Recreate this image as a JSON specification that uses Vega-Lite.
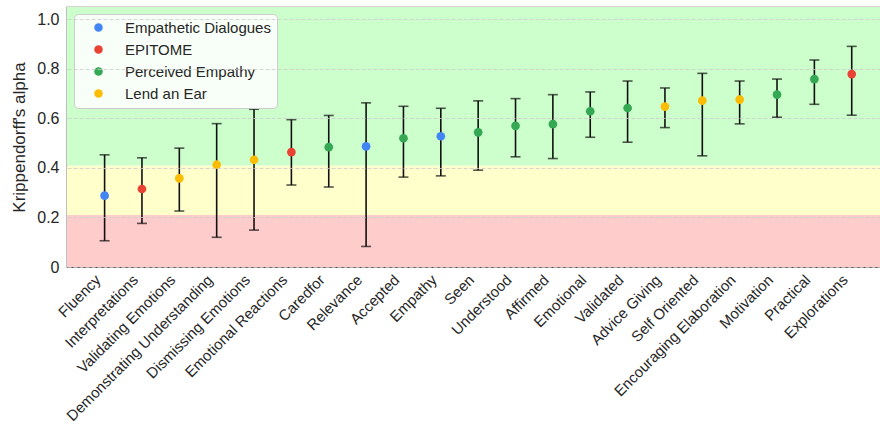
{
  "$schema": "https://vega.github.io/schema/vega-lite/v6.json",
  "width": 815,
  "height": 260,
  "autosize": {"type": "none"},
  "padding": {"left": 67, "top": 7, "right": 0, "bottom": 165},
  "background": "white",
  "config": {
    "font": "Liberation Sans",
    "view": {"stroke": "#555555", "strokeWidth": 1.25},
    "axis": {"labelColor": "#262626", "titleColor": "#262626"}
  },
  "datasets": {
    "bands": [
      {"level": "slight", "lo": 0, "hi": 0.21},
      {"level": "fair", "lo": 0.21, "hi": 0.41},
      {"level": "moderate", "lo": 0.41, "hi": 1.05}
    ],
    "scores": [
      {"name": "Fluency", "dataset": "Empathetic Dialogues", "alpha": 0.288, "lo": 0.106, "hi": 0.453},
      {"name": "Interpretations", "dataset": "EPITOME", "alpha": 0.315, "lo": 0.176, "hi": 0.441},
      {"name": "Validating Emotions", "dataset": "Lend an Ear", "alpha": 0.358, "lo": 0.226, "hi": 0.48},
      {"name": "Demonstrating Understanding", "dataset": "Lend an Ear", "alpha": 0.413, "lo": 0.12, "hi": 0.579},
      {"name": "Dismissing Emotions", "dataset": "Lend an Ear", "alpha": 0.433, "lo": 0.149, "hi": 0.637},
      {"name": "Emotional Reactions", "dataset": "EPITOME", "alpha": 0.464, "lo": 0.331, "hi": 0.595},
      {"name": "Caredfor", "dataset": "Perceived Empathy", "alpha": 0.484, "lo": 0.323, "hi": 0.612},
      {"name": "Relevance", "dataset": "Empathetic Dialogues", "alpha": 0.487, "lo": 0.083, "hi": 0.663},
      {"name": "Accepted", "dataset": "Perceived Empathy", "alpha": 0.52, "lo": 0.363, "hi": 0.649},
      {"name": "Empathy", "dataset": "Empathetic Dialogues", "alpha": 0.528, "lo": 0.368, "hi": 0.641},
      {"name": "Seen", "dataset": "Perceived Empathy", "alpha": 0.544, "lo": 0.391, "hi": 0.671},
      {"name": "Understood", "dataset": "Perceived Empathy", "alpha": 0.57, "lo": 0.445, "hi": 0.68},
      {"name": "Affirmed", "dataset": "Perceived Empathy", "alpha": 0.577, "lo": 0.438, "hi": 0.696},
      {"name": "Emotional", "dataset": "Perceived Empathy", "alpha": 0.629, "lo": 0.524, "hi": 0.707},
      {"name": "Validated", "dataset": "Perceived Empathy", "alpha": 0.642, "lo": 0.504, "hi": 0.751},
      {"name": "Advice Giving", "dataset": "Lend an Ear", "alpha": 0.648, "lo": 0.563, "hi": 0.723},
      {"name": "Self Oriented", "dataset": "Lend an Ear", "alpha": 0.672, "lo": 0.449, "hi": 0.782},
      {"name": "Encouraging Elaboration", "dataset": "Lend an Ear", "alpha": 0.676, "lo": 0.578, "hi": 0.751},
      {"name": "Motivation", "dataset": "Perceived Empathy", "alpha": 0.696, "lo": 0.605, "hi": 0.759},
      {"name": "Practical", "dataset": "Perceived Empathy", "alpha": 0.759, "lo": 0.657, "hi": 0.836},
      {"name": "Explorations", "dataset": "EPITOME", "alpha": 0.779, "lo": 0.613, "hi": 0.891}
    ]
  },
  "encoding": {
    "y": {
      "type": "quantitative",
      "scale": {"domain": [0, 1.05], "nice": false, "zero": true}
    }
  },
  "layer": [
    {
      "data": {"name": "bands"},
      "mark": {"type": "rect"},
      "encoding": {
        "y": {"field": "lo", "type": "quantitative"},
        "y2": {"field": "hi"},
        "fill": {
          "field": "level",
          "type": "nominal",
          "scale": {"domain": ["slight", "fair", "moderate"], "range": ["#ffcccc", "#ffffcc", "#ccffcc"]},
          "legend": null
        }
      }
    },
    {
      "data": {"name": "scores"},
      "mark": {"type": "rule", "color": "#111111", "strokeWidth": 1.6},
      "encoding": {
        "x": {
          "field": "name",
          "type": "nominal",
          "sort": null,
          "scale": {"type": "point", "padding": 0.9085, "align": 0.554},
          "axis": {
            "title": null,
            "labelAngle": -45,
            "labelAlign": "right",
            "labelBaseline": "middle",
            "labelFontSize": 15,
            "labelPadding": 10,
            "labelOffset": -7,
            "ticks": false,
            "domain": false,
            "grid": false,
            "labelOverlap": false,
            "labelLimit": 400
          }
        },
        "y": {
          "field": "lo",
          "type": "quantitative",
          "axis": {
            "title": "Krippendorff's alpha",
            "titleFontSize": 17,
            "titleFontWeight": "normal",
            "titlePadding": 8,
            "labelFontSize": 16,
            "labelPadding": 8,
            "ticks": false,
            "domain": false,
            "values": [0, 0.2, 0.4, 0.6, 0.8, 1.0],
            "labelExpr": "datum.value == 0 ? '0' : format(datum.value, '.1f')",
            "grid": true,
            "gridColor": "#cccccc",
            "gridDash": [4, 2],
            "gridWidth": 0.8,
            "zindex": 1
          }
        },
        "y2": {"field": "hi"}
      }
    },
    {
      "data": {"name": "scores"},
      "mark": {"type": "tick", "color": "#111111", "thickness": 1.6, "size": 10},
      "encoding": {
        "x": {"field": "name", "type": "nominal", "sort": null},
        "y": {"field": "lo", "type": "quantitative"}
      }
    },
    {
      "data": {"name": "scores"},
      "mark": {"type": "tick", "color": "#111111", "thickness": 1.6, "size": 10},
      "encoding": {
        "x": {"field": "name", "type": "nominal", "sort": null},
        "y": {"field": "hi", "type": "quantitative"}
      }
    },
    {
      "data": {"name": "scores"},
      "mark": {"type": "circle", "size": 76, "opacity": 1},
      "encoding": {
        "x": {"field": "name", "type": "nominal", "sort": null},
        "y": {"field": "alpha", "type": "quantitative"},
        "color": {
          "field": "dataset",
          "type": "nominal",
          "scale": {
            "domain": ["Empathetic Dialogues", "EPITOME", "Perceived Empathy", "Lend an Ear"],
            "range": ["#4285F4", "#EA4335", "#34A853", "#FBBC05"]
          },
          "legend": {
            "title": null,
            "orient": "top-left",
            "offset": 7,
            "padding": 6,
            "fillColor": "rgba(255,255,255,0.85)",
            "strokeColor": "#cccccc",
            "cornerRadius": 4,
            "labelFontSize": 15,
            "labelColor": "#262626",
            "labelOffset": 19,
            "symbolType": "circle",
            "symbolSize": 72,
            "symbolOffset": 11,
            "rowPadding": 6
          }
        }
      }
    }
  ]
}
